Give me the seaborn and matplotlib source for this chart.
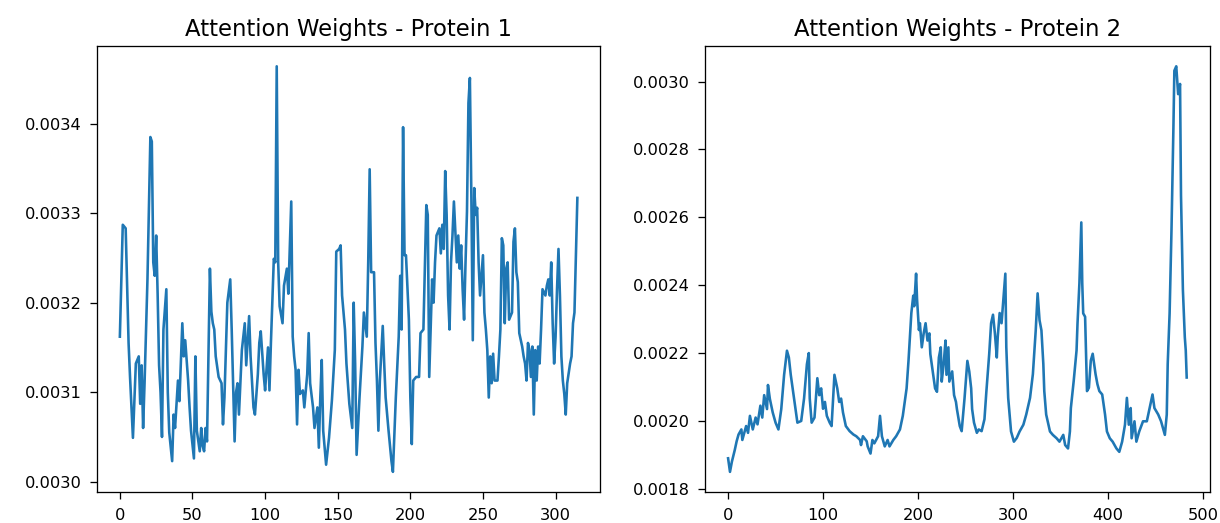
import numpy as np
import pandas as pd
import matplotlib
matplotlib.use("Agg")
import matplotlib.pyplot as plt
import seaborn as sns

# ---- Protein 1 (residue index, attention weight) ----
res1 = [0, 2, 4, 6, 7, 9, 11, 13, 14, 15, 16, 17, 19, 21, 22, 23, 24, 25, 26, 27,
        28, 29, 30, 32, 33, 34, 36, 37, 38, 40, 41, 42, 43, 44, 45, 47, 48, 49, 51, 52,
        53, 55, 56, 57, 58, 59, 60, 62, 63, 64, 65, 66, 68, 70, 71, 72, 74, 76, 77, 79,
        80, 81, 82, 84, 86, 87, 89, 90, 92, 93, 95, 96, 97, 99, 100, 102, 103, 104, 106, 107,
        108, 109, 110, 112, 113, 115, 116, 118, 119, 120, 121, 122, 123, 124, 126, 127, 129, 130, 131, 133,
        134, 136, 137, 138, 139, 140, 142, 144, 146, 148, 149, 151, 152, 153, 155, 156, 158, 160, 161, 162,
        163, 165, 167, 168, 170, 171, 172, 173, 175, 176, 177, 178, 179, 181, 182, 183, 185, 187, 188, 190,
        192, 193, 194, 195, 196, 197, 199, 200, 201, 202, 204, 206, 207, 209, 211, 212, 213, 215, 216, 217,
        218, 220, 221, 222, 223, 224, 225, 226, 227, 228, 229, 230, 232, 233, 234, 235, 236, 237, 238, 239,
        240, 241, 242, 243, 244, 245, 246, 247, 248, 250, 251, 252, 253, 254, 255, 256, 257, 258, 260, 261,
        262, 263, 264, 265, 266, 267, 268, 270, 271, 272, 273, 274, 275, 277, 278, 279, 280, 281, 282, 283,
        284, 285, 286, 287, 288, 289, 290, 291, 293, 294, 295, 296, 297, 298, 299, 300, 301, 302, 303, 304,
        305, 306, 307, 308, 310, 311, 312, 313, 315]
w1 = [0.003162, 0.003287, 0.003283, 0.003155, 0.003117, 0.003049, 0.003132, 0.003140, 0.003087, 0.003130,
      0.003060, 0.003110, 0.003226, 0.003385, 0.003380, 0.003245, 0.003230, 0.003275, 0.003210, 0.003130,
      0.003100, 0.003050, 0.003170, 0.003215, 0.003100, 0.003055, 0.003023, 0.003075, 0.003060, 0.003113,
      0.003090, 0.003132, 0.003177, 0.003140, 0.003158, 0.003113, 0.003083, 0.003057, 0.003026, 0.003140,
      0.003057, 0.003034, 0.003060, 0.003040, 0.003034, 0.003060, 0.003045, 0.003238, 0.003190, 0.003177,
      0.003170, 0.003140, 0.003117, 0.003110, 0.003064, 0.003094, 0.003200, 0.003226, 0.003170, 0.003045,
      0.003100, 0.003110, 0.003075, 0.003147, 0.003177, 0.003130, 0.003185, 0.003140, 0.003083, 0.003075,
      0.003120, 0.003155, 0.003168, 0.003120, 0.003102, 0.003150, 0.003102, 0.003155, 0.003249, 0.003245,
      0.003464, 0.003245, 0.003196, 0.003177, 0.003219, 0.003238, 0.003210, 0.003313, 0.003162, 0.003140,
      0.003125, 0.003064, 0.003125, 0.003098, 0.003102, 0.003083, 0.003120, 0.003166, 0.003110, 0.003083,
      0.003060, 0.003083, 0.003038, 0.003094, 0.003136, 0.003057, 0.003019, 0.003049, 0.003091, 0.003147,
      0.003257, 0.003260, 0.003264, 0.003208, 0.003170, 0.003132, 0.003087, 0.003060, 0.003200, 0.003132,
      0.003030, 0.003094, 0.003151, 0.003189, 0.003162, 0.003245, 0.003349, 0.003234, 0.003234, 0.003155,
      0.003113, 0.003057, 0.003113, 0.003174, 0.003132, 0.003094, 0.003057, 0.003023, 0.003011, 0.003094,
      0.003162, 0.003230, 0.003170, 0.003396, 0.003253, 0.003253, 0.003181, 0.003094, 0.003042, 0.003113,
      0.003117, 0.003117, 0.003166, 0.003170, 0.003309, 0.003298, 0.003117, 0.003226, 0.003200, 0.003245,
      0.003275, 0.003283, 0.003255, 0.003287, 0.003260, 0.003347, 0.003298, 0.003208, 0.003170, 0.003245,
      0.003275, 0.003313, 0.003245, 0.003275, 0.003238, 0.003264, 0.003215, 0.003181, 0.003245, 0.003302,
      0.003423, 0.003451, 0.003320, 0.003158, 0.003328, 0.003298, 0.003306, 0.003245, 0.003208, 0.003253,
      0.003189, 0.003170, 0.003147, 0.003094, 0.003140, 0.003110, 0.003143, 0.003113, 0.003113, 0.003140,
      0.003170, 0.003272, 0.003264, 0.003177, 0.003238, 0.003245, 0.003181, 0.003189, 0.003268, 0.003283,
      0.003234, 0.003223, 0.003166, 0.003151, 0.003140, 0.003132, 0.003113, 0.003155, 0.003147, 0.003117,
      0.003151, 0.003075, 0.003147, 0.003113, 0.003151, 0.003132, 0.003170, 0.003215, 0.003208, 0.003219,
      0.003226, 0.003208, 0.003245, 0.003177, 0.003132, 0.003162, 0.003215, 0.003260, 0.003208, 0.003140,
      0.003113, 0.003098, 0.003075, 0.003110, 0.003132, 0.003140, 0.003177, 0.003189, 0.003317]

# ---- Protein 2 (residue index, attention weight) ----
res2 = [0, 2, 4, 7, 9, 11, 14, 15, 19, 21, 23, 26, 29, 31, 34, 36, 38, 41, 42, 44,
        47, 50, 53, 56, 59, 62, 64, 66, 70, 73, 77, 80, 83, 85, 86, 88, 91, 94, 96, 98,
        100, 102, 104, 107, 109, 112, 115, 117, 119, 121, 124, 128, 132, 135, 139, 140, 142, 146, 147, 150,
        152, 154, 158, 160, 162, 165, 168, 170, 174, 177, 181, 184, 188, 190, 193, 195, 196, 198, 199, 201,
        202, 204, 206, 208, 210, 212, 213, 216, 218, 220, 222, 224, 225, 227, 229, 230, 232, 233, 236, 238,
        240, 241, 244, 246, 249, 252, 254, 256, 257, 259, 262, 264, 267, 270, 272, 275, 277, 279, 281, 283,
        284, 286, 288, 292, 293, 295, 298, 301, 304, 307, 311, 314, 318, 321, 324, 326, 328, 330, 332, 333,
        335, 339, 342, 346, 349, 353, 355, 358, 360, 361, 364, 367, 368, 370, 372, 373, 374, 376, 378, 380,
        382, 384, 387, 389, 391, 394, 397, 399, 402, 405, 409, 412, 415, 418, 420, 422, 424, 425, 428, 430,
        433, 437, 441, 444, 447, 449, 453, 456, 458, 460, 462, 463, 465, 467, 469, 470, 472, 474, 476, 477,
        479, 481, 482, 483]
w2 = [0.001890, 0.001850, 0.001880, 0.001914, 0.001940, 0.001960, 0.001975, 0.001944, 0.001985, 0.001965,
      0.002015, 0.001975, 0.002010, 0.001990, 0.002045, 0.002010, 0.002076, 0.002035, 0.002106, 0.002065,
      0.002025, 0.001995, 0.001975, 0.002035, 0.002136, 0.002207, 0.002187, 0.002136, 0.002056, 0.001995,
      0.002000, 0.002066, 0.002167, 0.002200, 0.002066, 0.001995, 0.002010, 0.002126, 0.002076, 0.002096,
      0.002036, 0.002056, 0.002015, 0.001995, 0.001985, 0.002136, 0.002096, 0.002056, 0.002066, 0.002025,
      0.001985, 0.001970, 0.001960, 0.001955, 0.001944, 0.001929, 0.001955, 0.001940, 0.001925, 0.001904,
      0.001944, 0.001934, 0.001955, 0.002015, 0.001955, 0.001925, 0.001944, 0.001925, 0.001944, 0.001955,
      0.001975, 0.002015, 0.002096, 0.002177, 0.002318, 0.002369, 0.002338, 0.002434, 0.002359, 0.002268,
      0.002288, 0.002217, 0.002258, 0.002288, 0.002237, 0.002258, 0.002197, 0.002136, 0.002096, 0.002086,
      0.002187, 0.002217, 0.002116, 0.002167, 0.002237, 0.002136, 0.002217, 0.002116, 0.002146, 0.002076,
      0.002056, 0.002035, 0.001985, 0.001970, 0.002066, 0.002177, 0.002146, 0.002096, 0.002035, 0.001995,
      0.001965, 0.001975, 0.001970, 0.002005, 0.002086, 0.002197, 0.002288, 0.002313, 0.002258, 0.002187,
      0.002248, 0.002318, 0.002288, 0.002434, 0.002218, 0.002068, 0.001969, 0.001939, 0.001950, 0.001969,
      0.001989, 0.002019, 0.002068, 0.002138, 0.002267, 0.002376, 0.002297, 0.002267, 0.002168, 0.002088,
      0.002019, 0.001969, 0.001959, 0.001949, 0.001939, 0.001959, 0.001929, 0.001919, 0.001969, 0.002038,
      0.002118, 0.002208, 0.002287, 0.002406, 0.002585, 0.002406, 0.002317, 0.002307, 0.002088, 0.002098,
      0.002178, 0.002198, 0.002138, 0.002108, 0.002088, 0.002078, 0.002019, 0.001969, 0.001949, 0.001939,
      0.001919, 0.001909, 0.001939, 0.001989, 0.002068, 0.001989, 0.002038, 0.001949, 0.001999, 0.001939,
      0.001969, 0.001999, 0.001999, 0.002038, 0.002078, 0.002038, 0.002019, 0.001999, 0.001979, 0.001959,
      0.002019, 0.002168, 0.002317, 0.002565, 0.002863, 0.003032, 0.003045, 0.002963, 0.002993, 0.002664,
      0.002386, 0.002247, 0.002208, 0.002128]

titles = ["Attention Weights - Protein 1", "Attention Weights - Protein 2"]

df1 = pd.DataFrame({"residue": res1, "weight": w1})
df2 = pd.DataFrame({"residue": res2, "weight": w2})

DPI = 117
fig = plt.figure(figsize=(1220 / DPI, 523 / DPI), dpi=DPI)
ax1 = fig.add_axes([0.0795, 0.059, 0.4125, 0.853])
ax2 = fig.add_axes([0.578, 0.059, 0.4135, 0.853])

for ax, df, title in [(ax1, df1, titles[0]), (ax2, df2, titles[1])]:
    sns.lineplot(data=df, x="residue", y="weight", ax=ax, color="#1f77b4", linewidth=1.6)
    ax.set_title(title, fontsize=14)
    ax.set_xlabel("")
    ax.set_ylabel("")
    ax.tick_params(labelsize=10, length=4.5, pad=5)

fig.savefig("out.png", dpi=DPI)
